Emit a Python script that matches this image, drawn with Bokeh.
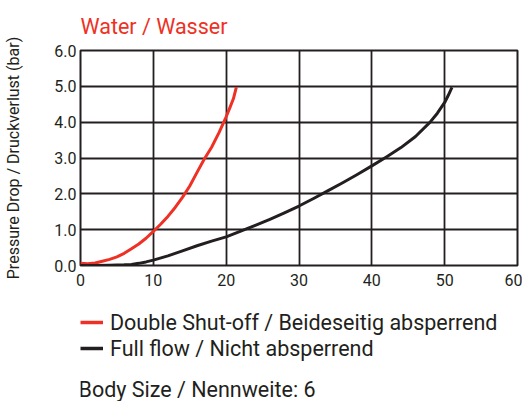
from bokeh.plotting import figure
from bokeh.layouts import column
from bokeh.models import Range1d, FixedTicker, Legend, LegendItem, NumeralTickFormatter, Label
from bokeh.embed import file_html
from bokeh.resources import INLINE

# ---- data ----
red_x = [0, 1, 2, 3, 4, 5, 6, 7, 8, 9, 10, 11, 12, 13, 14, 15, 16, 17, 18, 19, 20, 20.5, 21, 21.4]
red_y = [0.06, 0.05, 0.07, 0.12, 0.17, 0.24, 0.34, 0.47, 0.6, 0.76, 0.95, 1.15, 1.37, 1.62, 1.9, 2.22, 2.6, 2.97, 3.3, 3.7, 4.15, 4.4, 4.66, 4.98]
black_x = [0, 2, 4, 6, 7, 8, 9, 10, 12, 14, 16, 18, 20, 22, 24, 26, 28, 30, 32, 34, 36, 38, 40, 42, 44, 46, 48, 49, 50, 50.5, 51]
black_y = [0, 0, 0.01, 0.02, 0.03, 0.06, 0.1, 0.15, 0.27, 0.41, 0.55, 0.68, 0.8, 0.96, 1.12, 1.29, 1.47, 1.66, 1.87, 2.09, 2.31, 2.54, 2.78, 3.03, 3.29, 3.6, 4.0, 4.25, 4.55, 4.75, 4.97]
x_ticks = [0, 10, 20, 30, 40, 50, 60]
y_ticks = [0, 1, 2, 3, 4, 5, 6]

title_text = "Water / Wasser"
y_label = "Pressure Drop / Druckverlust (bar)"
red_name = "Double Shut-off / Beideseitig absperrend"
black_name = "Full flow / Nicht absperrend"
note_text = "Body Size / Nennweite: 6"

RED = "#ee3124"
DARK = "#231f20"
FONT = "Roboto"

# ---- main chart ----
p = figure(width=522, height=300, output_backend="svg", toolbar_location=None,
           x_range=Range1d(0, 60), y_range=Range1d(0, 6),
           min_border_left=80, min_border_right=5, min_border_top=48, min_border_bottom=35)
p.background_fill_color = "white"
p.border_fill_color = "white"
p.outline_line_color = DARK
p.outline_line_width = 2

p.title.text = title_text
p.title.align = "left"
p.title.text_font = FONT
p.title.text_font_size = "21.5px"
p.title.text_font_style = "normal"
p.title.text_color = RED
p.title.standoff = 23

for ax in (p.xaxis[0], p.yaxis[0]):
    ax.axis_line_color = None
    ax.major_tick_line_color = None
    ax.minor_tick_line_color = None
    ax.major_tick_in = 0
    ax.major_tick_out = 0
    ax.major_label_text_font = FONT
    ax.major_label_text_font_size = "16px"
    ax.major_label_text_color = DARK
p.xaxis.ticker = FixedTicker(ticks=x_ticks)
p.yaxis.ticker = FixedTicker(ticks=y_ticks)
p.yaxis.formatter = NumeralTickFormatter(format="0.0")
p.xaxis.major_label_standoff = 8
p.yaxis.major_label_standoff = 4
p.yaxis.axis_label = y_label
p.yaxis.axis_label_text_font = FONT
p.yaxis.axis_label_text_font_size = "16px"
p.yaxis.axis_label_text_font_style = "normal"
p.yaxis.axis_label_text_color = DARK
p.yaxis.axis_label_standoff = 28

p.xgrid.grid_line_color = DARK
p.ygrid.grid_line_color = DARK
p.xgrid.grid_line_width = 1.8
p.ygrid.grid_line_width = 1.8

p.line(red_x, red_y, line_color=RED, line_width=3, line_join="round")
p.line(black_x, black_y, line_color=DARK, line_width=3, line_join="round")

# ---- legend + note strip (its frame is aligned with the chart's frame) ----
q = figure(width=522, height=101, output_backend="svg", toolbar_location=None,
           x_range=Range1d(0, 60), y_range=Range1d(0, 6),
           min_border=0, min_border_left=0, min_border_right=0, min_border_top=0, min_border_bottom=0)
q.axis.visible = False
q.grid.visible = False
q.outline_line_color = None
q.background_fill_color = "white"
q.border_fill_color = "white"

k_red = q.line(red_x, red_y, line_color=RED, line_width=3.5, visible=False)
k_black = q.line(black_x, black_y, line_color=DARK, line_width=3.5, visible=False)

legend = Legend(items=[LegendItem(label=red_name, renderers=[k_red]),
                       LegendItem(label=black_name, renderers=[k_black])],
                location=(0, 40), orientation="vertical",
                padding=0, spacing=0, margin=0,
                glyph_width=23, glyph_height=26, label_height=26, label_standoff=7,
                label_text_font=FONT, label_text_font_size="21.5px", label_text_color=DARK,
                border_line_alpha=0, background_fill_alpha=0)
q.add_layout(legend, "center")

q.add_layout(Label(x=-2, y=12.5, x_units="screen", y_units="screen", text=note_text,
                   text_font=FONT, text_font_size="21.5px", text_color=DARK,
                   text_baseline="alphabetic", text_align="left"))

layout = column(p, q, spacing=0)

html = file_html(layout, INLINE)
html = html.replace("<head>", "<head><style>html,body{margin:0;padding:0;overflow:hidden}</style>", 1)
open("out.html", "w").write(html)
